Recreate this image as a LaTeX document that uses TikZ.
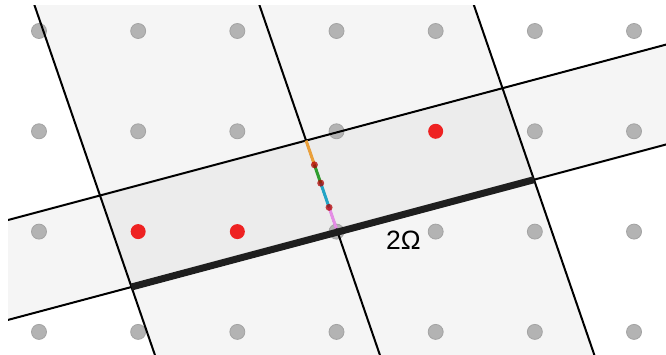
\documentclass[tikz,border=0pt]{standalone}
\usepackage{fontspec}
\newfontfamily\labfont{Liberation Sans}
\usetikzlibrary{calc}
\definecolor{stripfill}{HTML}{F5F5F5}
\definecolor{overlapfill}{HTML}{ECECEC}
\definecolor{dotgray}{HTML}{B3B3B3}
\definecolor{dotedge}{HTML}{A3A3A3}
\definecolor{dotred}{HTML}{EE2222}
\definecolor{segorange}{HTML}{EBA03A}
\definecolor{seggreen}{HTML}{2E9E2E}
\definecolor{segcyan}{HTML}{22A4C6}
\definecolor{segpink}{HTML}{E58DE6}
\definecolor{thickedge}{HTML}{1E1E1E}
\tikzset{
 gdot/.style={circle, fill=dotgray, draw=dotedge, line width=0.8pt, minimum size=15pt, inner sep=0pt},
 rdot/.style={circle, fill=dotred, minimum size=15pt, inner sep=0pt},
 sdot/.style={circle, fill=red!70!black, fill opacity=0.75, minimum size=7pt, inner sep=0pt},
 border/.style={line width=2pt, black},
 seg/.style={line width=3pt},
}
\begin{document}
\begin{tikzpicture}[x=1pt,y=-1pt]
\useasboundingbox (0,0) rectangle (666,355);
\fill[white] (0,0) rectangle (666,355);
\coordinate (P1) at (100,195.5);
\coordinate (P2) at (502.5,88.2);
\coordinate (P3) at (534,179.7);
\coordinate (P4) at (131.5,287);
\coordinate (B1) at ($(P1)!0.512!(P2)$);
\coordinate (B2) at ($(P4)!0.512!(P3)$);
\begin{scope}
\clip (8,5.5) rectangle (666,355);
\fill[stripfill] ($(P1)!-3!(P4)$) -- ($(P1)!3!(P4)$) -- ($(P2)!3!(P3)$) -- ($(P2)!-3!(P3)$) -- cycle;
\fill[stripfill] ($(P1)!-1!(P2)$) -- ($(P1)!2!(P2)$) -- ($(P4)!2!(P3)$) -- ($(P4)!-1!(P3)$) -- cycle;
\fill[overlapfill] (P1) -- (P2) -- (P3) -- (P4) -- cycle;
\end{scope}
\foreach \i in {0,...,6} {
  \foreach \j in {0,...,3} {
    \pgfmathtruncatemacro{\isred}{((\i==1 && \j==2) || (\i==2 && \j==2) || (\i==4 && \j==1)) ? 1 : 0}
    \ifnum\isred=0 \node[gdot] (g\i\j) at ({39+99.17*\i},{31+100.3*\j}) {}; \fi
  }
}
\node[rdot] (r12) at ({39+99.17*1},{31+100.3*2}) {};
\node[rdot] (r22) at ({39+99.17*2},{31+100.3*2}) {};
\node[rdot] (r41) at ({39+99.17*4},{31+100.3*1}) {};
\begin{scope}
\clip (8,5.5) rectangle (666,355);
\draw[border] ($(P1)!-3!(P4)$) -- ($(P1)!3!(P4)$);
\draw[border] ($(B1)!-3!(B2)$) -- ($(B1)!3!(B2)$);
\draw[border] ($(P2)!-3!(P3)$) -- ($(P2)!3!(P3)$);
\draw[border] ($(P1)!-1!(P2)$) -- ($(P1)!2!(P2)$);
\draw[border] ($(P4)!-1!(P3)$) -- ($(P4)!2!(P3)$);
\end{scope}
\coordinate (S1) at ($(B1)!0.265!(B2)$);
\coordinate (S2) at ($(B1)!0.465!(B2)$);
\coordinate (S3) at ($(B1)!0.73!(B2)$);
\coordinate (S4) at ($(B1)!0.96!(B2)$);
\draw[seg, segorange] (B1) -- (S1);
\draw[seg, seggreen] (S1) -- (S2);
\draw[seg, segcyan] (S2) -- (S3);
\draw[seg, segpink] (S3) -- (S4);
\draw[line width=7pt, thickedge] (P4) -- (P3);
\node[sdot] (m1) at (S1) {};
\node[sdot] (m2) at (S2) {};
\node[sdot] (m3) at (S3) {};
\node[font=\labfont\fontsize{26.5}{30}\selectfont] (lab) at (403.5,240) {2Ω};
\end{tikzpicture}
\end{document}
